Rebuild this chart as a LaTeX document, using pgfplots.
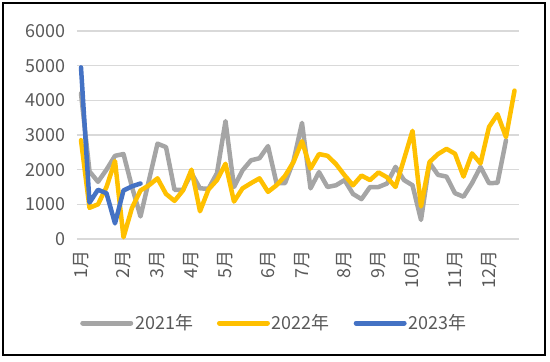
\documentclass[border=0pt]{standalone}
\usepackage{fontspec}
\setmainfont{Noto Sans CJK SC}
\usepackage{pgfplots}
\pgfplotsset{compat=1.18}
\definecolor{c21}{HTML}{A5A5A5}
\definecolor{c22}{HTML}{FFC000}
\definecolor{c23}{HTML}{4472C4}
\definecolor{txt}{HTML}{595959}
\definecolor{gridc}{HTML}{D9D9D9}
\begin{document}
\begin{tikzpicture}[x=1bp,y=1bp]
\useasboundingbox (0,0) rectangle (550,361);
\begin{axis}[
  at={(76.75bp,122bp)}, anchor=south west,
  scale only axis, width=442bp, height=208bp,
  xmin=-0.5, xmax=51.5, ymin=0, ymax=6000,
  axis line style={draw=none},
  ytick={0,1000,...,6000},
  ymajorgrids, grid style={gridc, line width=1.3bp},
  major tick length=0pt,
  xtick={0,5,9,13,17,22,26,31,35,39,44,48},
  xticklabels={1月,2月,3月,4月,5月,6月,7月,8月,9月,10月,11月,12月},
  x tick label style={rotate=90, anchor=east},
  tick label style={font=\fontsize{18}{20}\selectfont, text=txt},
  /pgf/number format/assume math mode=true,
  scaled y ticks=false,
  yticklabel style={/pgf/number format/1000 sep={}},
  xticklabel shift=8bp, yticklabel shift=8bp,
  legend columns=3,
  legend style={at={(0.0074,-0.404)}, anchor=west, draw=none, fill=none,
    font=\fontsize{18}{20}\selectfont, text=txt, inner sep=0pt},
  legend image code/.code={\draw[line width=5bp, line cap=round] (0bp,0bp) -- (48bp,0bp);},
  every axis plot/.append style={line width=4.5bp, line join=round, line cap=round},
  clip=false,
]
\addplot[c21] coordinates {
(0,4200)(1,1950)(2,1650)(3,2000)(4,2400)(5,2450)(6,1500)(7,650)(8,1700)(9,2750)
(10,2650)(11,1420)(12,1420)(13,1900)(14,1460)(15,1450)(16,1900)(17,3400)(18,1500)(19,1980)
(20,2270)(21,2330)(22,2680)(23,1610)(24,1610)(25,2250)(26,3350)(27,1460)(28,1930)(29,1500)
(30,1550)(31,1700)(32,1300)(33,1150)(34,1500)(35,1500)(36,1600)(37,2080)(38,1700)(39,1550)
(40,550)(41,2200)(42,1850)(43,1800)(44,1320)(45,1220)(46,1610)(47,2080)(48,1610)(49,1620)
(50,2850)};
\addlegendentry{2021年\rule{22bp}{0pt}}
\addplot[c22] coordinates {
(0,2850)(1,900)(2,1000)(3,1500)(4,2250)(5,50)(6,900)(7,1400)(8,1550)(9,1750)
(10,1300)(11,1100)(12,1400)(13,2000)(14,800)(15,1430)(16,1700)(17,2170)(18,1080)(19,1460)
(20,1610)(21,1750)(22,1360)(23,1550)(24,1820)(25,2220)(26,2820)(27,2030)(28,2450)(29,2400)
(30,2160)(31,1840)(32,1550)(33,1830)(34,1700)(35,1920)(36,1780)(37,1500)(38,2300)(39,3120)
(40,940)(41,2220)(42,2450)(43,2600)(44,2460)(45,1800)(46,2470)(47,2180)(48,3230)(49,3600)
(50,2940)(51,4280)};
\addlegendentry{2022年\rule{22bp}{0pt}}
\addplot[c23] coordinates {
(0,4950)(1,1050)(2,1420)(3,1320)(4,450)(5,1400)(6,1520)(7,1600)};
\addlegendentry{2023年}
\end{axis}
\draw[line width=2bp, black] (3,6) rectangle (545,358);
\end{tikzpicture}
\end{document}
